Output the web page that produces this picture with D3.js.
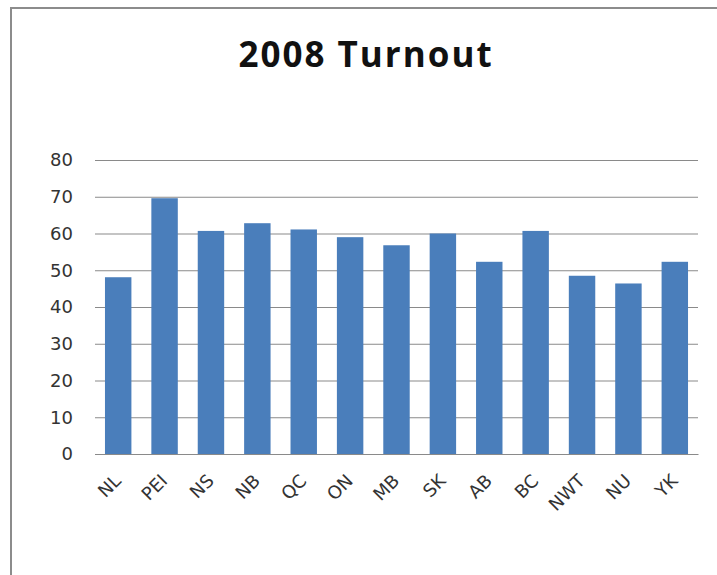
<!DOCTYPE html>
<html>
<head>
<meta charset="utf-8">
<script src="https://cdn.jsdelivr.net/npm/d3@7"></script>
<style>
  html, body { margin: 0; padding: 0; background: #fff; }
  svg { display: block; }
</style>
</head>
<body>
<svg id="chart" width="717" height="575"></svg>
<script>
// Voter turnout by province / territory, 2008 federal election (%)
const provinces = ["NL", "PEI", "NS", "NB", "QC", "ON", "MB", "SK", "AB", "BC", "NWT", "NU", "YK"];
const turnout = [48.1, 69.6, 60.7, 62.8, 61.1, 59.0, 56.8, 60.0, 52.3, 60.7, 48.5, 46.4, 52.3];
const yTicks = [0, 10, 20, 30, 40, 50, 60, 70, 80];
const chartTitle = "2008 Turnout";

const svg = d3.select("#chart");
const W = 717, H = 575;
const plot = { left: 95, right: 698, top: 160, bottom: 454 };

// chart frame (top and left edges visible)
svg.append("rect").attr("x", 0).attr("y", 0).attr("width", W).attr("height", H).attr("fill", "#fff");
svg.append("path")
  .attr("d", `M11,${H} L11,8 L${W},8`)
  .attr("fill", "none")
  .attr("stroke", "#8c8c8c")
  .attr("stroke-width", 2);

svg.append("text")
  .attr("x", 366)
  .attr("y", 67)
  .attr("text-anchor", "middle")
  .attr("font-family", "'Open Sans', Lato, sans-serif")
  .attr("font-weight", "bold")
  .attr("font-size", 35)
  .attr("letter-spacing", 2)
  .attr("fill", "#111")
  .text(chartTitle);

const x = d3.scaleBand()
  .domain(provinces)
  .range([plot.left, plot.right])
  .paddingInner(0.43)
  .paddingOuter(0.215);

const y = d3.scaleLinear()
  .domain([0, 80])
  .range([plot.bottom, plot.top]);

// horizontal gridlines
const grid = svg.append("g")
  .attr("transform", `translate(${plot.left},0)`)
  .call(d3.axisLeft(y).tickValues(yTicks).tickSize(-(plot.right - plot.left)).tickFormat(""));
grid.select(".domain").remove();
grid.selectAll("line").attr("stroke", "#8a8a8a").attr("stroke-width", 1.2);

// y-axis labels
const yAxis = svg.append("g")
  .attr("transform", `translate(${plot.left},0)`)
  .call(d3.axisLeft(y).tickValues(yTicks).tickSize(0).tickPadding(22));
yAxis.select(".domain").remove();
yAxis.selectAll("text")
  .attr("font-family", "'DejaVu Sans', sans-serif")
  .attr("font-size", 18)
  .attr("fill", "#333");

// bars
svg.append("g")
  .selectAll("rect")
  .data(provinces.map((p, i) => ({ p, v: turnout[i] })))
  .join("rect")
  .attr("x", d => x(d.p))
  .attr("y", d => y(d.v))
  .attr("width", x.bandwidth())
  .attr("height", d => y(0) - y(d.v))
  .attr("fill", "#4a7ebb");

// x-axis baseline and rotated category labels
const xAxis = svg.append("g")
  .attr("transform", `translate(0,${plot.bottom})`)
  .call(d3.axisBottom(x).tickSize(0).tickPadding(0));
xAxis.select(".domain").attr("stroke", "#8a8a8a").attr("stroke-width", 1.2);
xAxis.selectAll("text")
  .attr("font-family", "'DejaVu Sans', sans-serif")
  .attr("font-size", 18)
  .attr("fill", "#333")
  .attr("text-anchor", "end")
  .attr("dy", 0)
  .attr("transform", "translate(4,28) rotate(-45)");
</script>
</body>
</html>
